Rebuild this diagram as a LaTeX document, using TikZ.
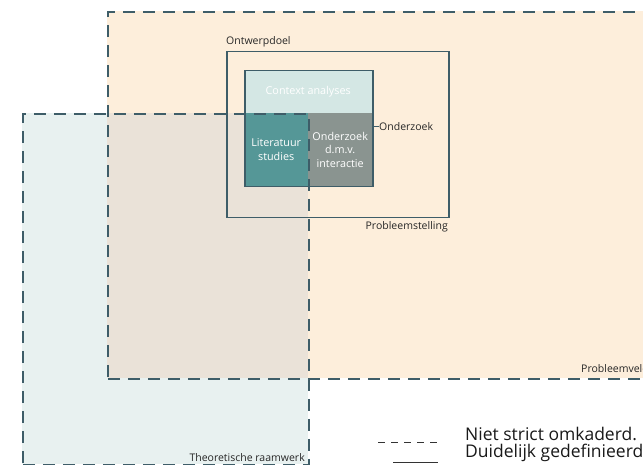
\documentclass[tikz,border=0pt]{standalone}
\usepackage{fontspec}
\setmainfont{Open Sans}
\definecolor{frame}{HTML}{3E5D68}
\definecolor{peach}{HTML}{FDEEDB}
\definecolor{theory}{HTML}{E8F1F0}
\definecolor{overlap}{HTML}{EAE2D8}
\definecolor{ctx}{HTML}{D4E7E4}
\definecolor{lit}{HTML}{559797}
\definecolor{inter}{HTML}{8A9490}
\tikzset{
  field/.style={draw=frame, line width=1.6pt, dash pattern=on 12pt off 8pt, fill=none, inner sep=0pt, anchor=north west},
  solidbox/.style={draw=frame, line width=1.5pt, inner sep=0pt, anchor=north west},
  areabox/.style={inner sep=0pt, anchor=north west, text=white, font=\fontsize{10.8}{13.5}\selectfont, align=center},
  small/.style={font=\fontsize{10.5}{12}\selectfont, inner sep=0pt, text=black!85},
  legend/.style={font=\fontsize{17.5}{19}\selectfont, inner sep=0pt, anchor=west, text=black!90}
}
\begin{document}
\begin{tikzpicture}[x=1pt,y=-1pt]
\useasboundingbox (0,0) rectangle (643,465);
\clip (0,0) rectangle (643,465);
% fills
\fill[peach] (107,11) rectangle (700,378);
\fill[theory] (22,113) rectangle (308,464);
\fill[overlap] (107,113) rectangle (308,378);
% inner areas
\node[areabox, fill=ctx, minimum width=128pt, minimum height=43pt] (ctx) at (244,70) {Context analyses};
\node[areabox, fill=lit, minimum width=64pt, minimum height=73pt] (lit) at (244,113) {Literatuur\\studies};
\node[areabox, fill=inter, minimum width=64pt, minimum height=73pt] (inter) at (308,113) {Onderzoek\\d.m.v.\\interactie};
% solid boxes
\node[solidbox, minimum width=128pt, minimum height=116pt] (onderzoek) at (244,70) {};
\node[solidbox, minimum width=222pt, minimum height=166pt] (doel) at (226,51) {};
% dashed fields
\node[field, minimum width=600pt, minimum height=367pt] (veld) at (107,11) {};
\node[field, minimum width=286pt, minimum height=351pt] (raam) at (22,113) {};
% labels
\node[small, anchor=south west] (ldoel) at (226,47) {Ontwerpdoel};
\node[small, anchor=west] (lond) at (379,127) {Onderzoek};
\draw[frame, line width=1pt] (onderzoek.east |- lond.west) -- (lond.west);
\node[small, anchor=north east] (lstel) at (448,221) {Probleemstelling};
\node[small, anchor=base west] (lveld) at (581,372) {Probleemveld};
\node[small, anchor=base east] (lraam) at (305,461) {Theoretische raamwerk};
% legend
\coordinate (d1) at (378,442);
\coordinate (d2) at (438,442);
\coordinate (s1) at (393,462);
\coordinate (s2) at (438,462);
\draw[black!80, line width=0.8pt, dash pattern=on 7pt off 6pt] (d1) -- (d2);
\draw[black!80, line width=0.8pt] (s1) -- (s2);
\node[legend] (lg1) at (465,434) {Niet strict omkaderd.};
\node[legend] (lg2) at (465,453) {Duidelijk gedefinieerd.};
\end{tikzpicture}
\end{document}
